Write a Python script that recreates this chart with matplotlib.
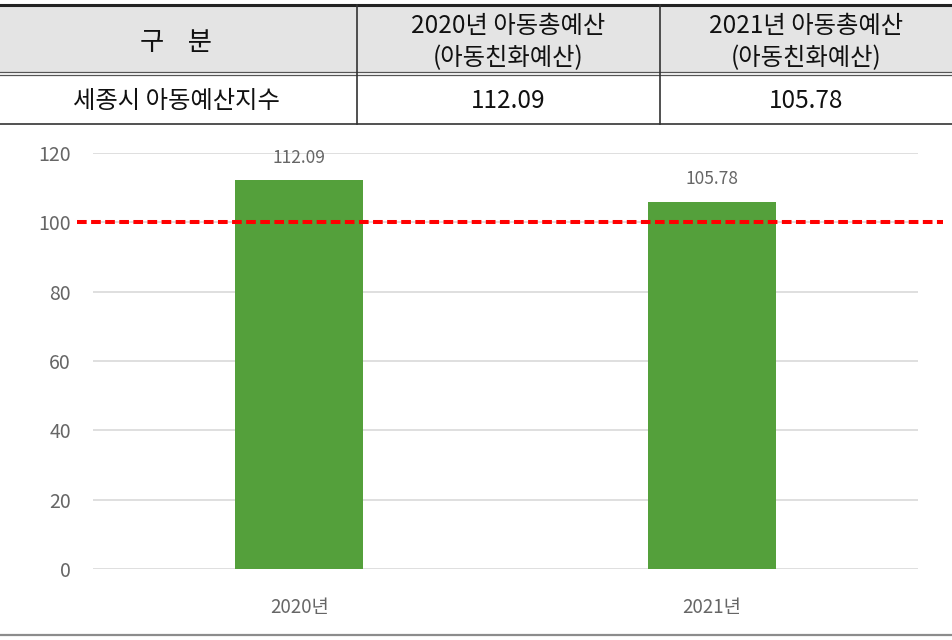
"""Sejong child budget index: summary table above a bar chart with a 100 baseline."""
import matplotlib
matplotlib.use("Agg")
import matplotlib.pyplot as plt
from matplotlib.lines import Line2D
from matplotlib.patches import Rectangle

plt.rcParams["font.family"] = ["Noto Sans CJK KR", "DejaVu Sans"]

# data
years = ["2020년", "2021년"]
index_values = [112.09, 105.78]
baseline = 100
col_headers = ["구    분", "2020년 아동총예산\n(아동친화예산)", "2021년 아동총예산\n(아동친화예산)"]
row_label = "세종시 아동예산지수"
y_ticks = [0, 20, 40, 60, 80, 100, 120]

W, H = 952, 640
GRAY_TXT = "#666666"
GRID = "#D9D9D9"
GREEN = "#54A03B"


def fy(py):
    return 1 - py / H


fig = plt.figure(figsize=(W / 100, H / 100), dpi=100)
fig.patch.set_facecolor("white")

# ---- table on top ----
col_x = [0, 357, 660, W]
fig.add_artist(Rectangle((0, fy(72)), 1, fy(6) - fy(72), transform=fig.transFigure,
                         facecolor="#E4E4E4", edgecolor="none"))
fig.add_artist(Line2D([0, 1], [fy(5), fy(5)], transform=fig.transFigure, color="#222222", lw=2.2))
for yy in (72, 75):
    fig.add_artist(Line2D([0, 1], [fy(yy), fy(yy)], transform=fig.transFigure, color="#555555", lw=0.9))
fig.add_artist(Line2D([0, 1], [fy(124), fy(124)], transform=fig.transFigure, color="#333333", lw=1.2))
for cx in col_x[1:3]:
    fig.add_artist(Line2D([cx / W, cx / W], [fy(124), fy(5)], transform=fig.transFigure,
                          color="#333333", lw=1.2))

centers = [(col_x[i] + col_x[i + 1]) / 2 / W for i in range(3)]
centers[0] = 176 / W
for i, txt in enumerate(col_headers):
    fig.text(centers[i], fy(42), txt, ha="center", va="center",
             fontsize=19 if i == 0 else 17.5,
             color="#111111", linespacing=1.3,
             fontweight="medium" if i == 0 else "normal")
fig.text(centers[0], fy(101), row_label, ha="center", va="center", fontsize=17.5, color="#111111")
for i, v in enumerate(index_values):
    fig.text(centers[i + 1], fy(101), f"{v:.2f}", ha="center", va="center",
             fontsize=17.5, color="#111111")

# ---- bar chart ----
ax = fig.add_axes([93 / W, fy(569), (918 - 93) / W, fy(153) - fy(569)])
x = list(range(len(years)))
bars = ax.bar(x, index_values, width=0.31, color=GREEN, zorder=3)
ax.set_xlim(-0.5, len(years) - 0.5)
ax.set_ylim(0, 120)
ax.set_yticks(y_ticks)
ax.set_xticks(x)
ax.set_xticklabels(years)
ax.grid(axis="y", color=GRID, lw=1.2, zorder=0)
for s in ax.spines.values():
    s.set_visible(False)
ax.tick_params(axis="y", length=0, pad=16, labelsize=14, labelcolor=GRAY_TXT)
ax.tick_params(axis="x", length=0, pad=20, labelsize=13.5, labelcolor=GRAY_TXT)

for b, v in zip(bars, index_values):
    ax.annotate(f"{v:.2f}", (b.get_x() + b.get_width() / 2, v), xytext=(0, 10),
                textcoords="offset points", ha="center", va="bottom",
                fontsize=12.5, color=GRAY_TXT)

ax.plot([-0.019, 1.03], [baseline, baseline], transform=ax.get_yaxis_transform(),
        color="#FF0000", lw=2.9, dashes=(2.4, 1.1), clip_on=False, zorder=4)

fig.add_artist(Line2D([0, 1], [fy(635), fy(635)], transform=fig.transFigure, color="#8C8C8C", lw=1.6))

fig.savefig("out.png", dpi=100, facecolor="white")
